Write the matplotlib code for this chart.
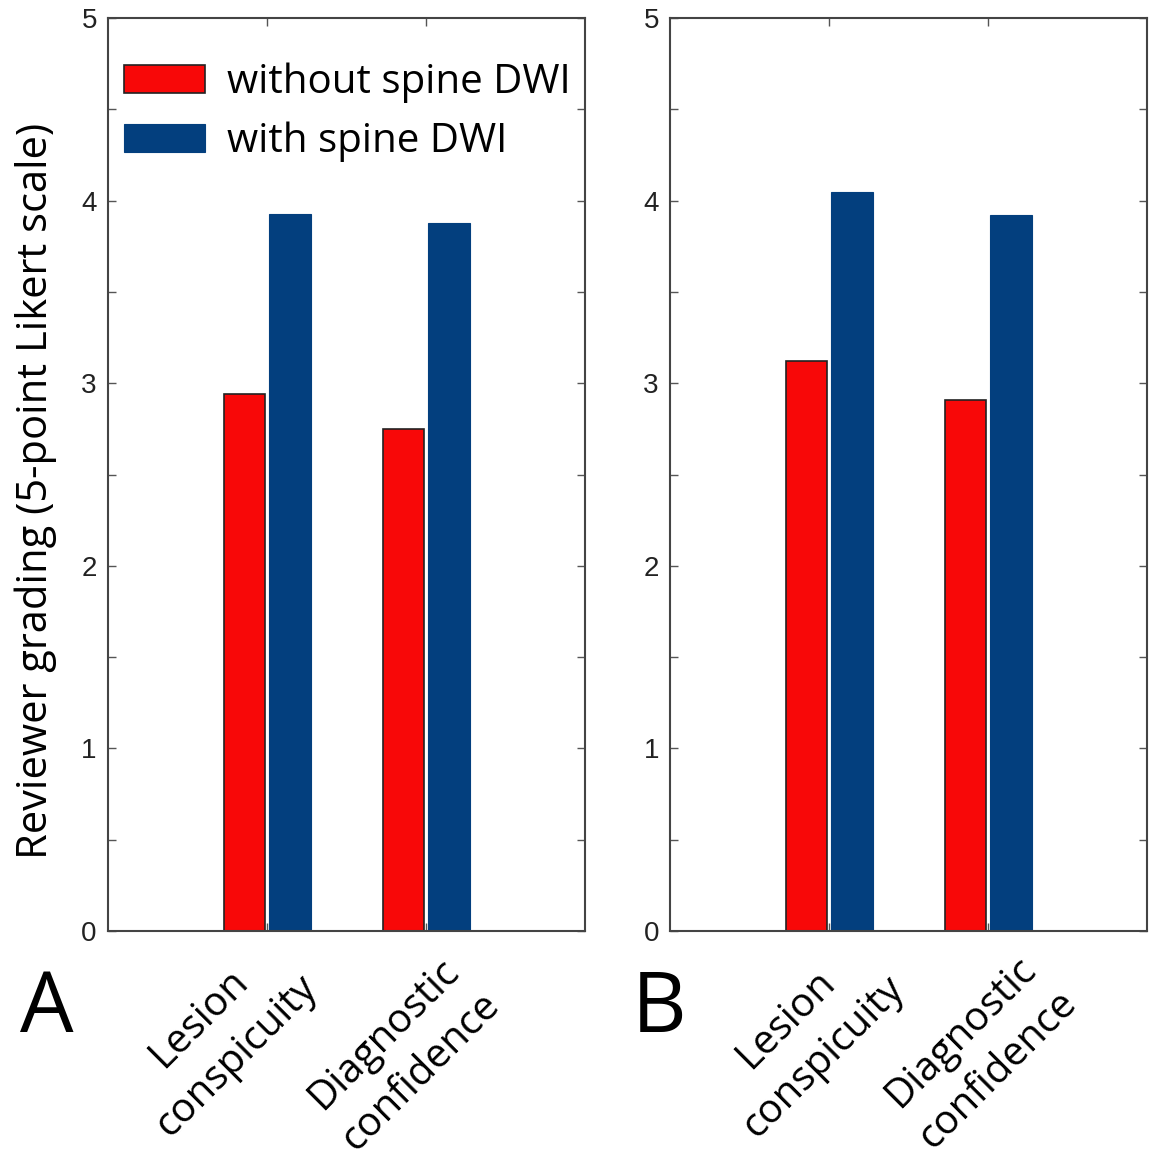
import matplotlib
matplotlib.use("Agg")
import matplotlib.pyplot as plt
import numpy as np
from matplotlib.transforms import ScaledTranslation

categories = ["Lesion\nconspicuity", "Diagnostic\nconfidence"]
series_names = ["without spine DWI", "with spine DWI"]
panel_a_without = [2.94, 2.75]
panel_a_with = [3.93, 3.88]
panel_b_without = [3.12, 2.91]
panel_b_with = [4.05, 3.92]
y_ticks = [0, 1, 2, 3, 4, 5]

RED = "#f80808"
BLUE = "#033f7e"
TXT = "Open Sans"
FS = 29

fig = plt.figure(figsize=(11.5, 11.57), dpi=100)
ax_a = fig.add_axes([0.0939, 0.1953, 0.4148, 0.789])
ax_b = fig.add_axes([0.5826, 0.1953, 0.4148, 0.789])

x = np.arange(1, len(categories) + 1)
w = 0.26
off = 0.14

# label centre offsets (px) relative to tick position at axis bottom
label_offsets = {
    "A": [(-49, 106), (-23, 122)],
    "B": [(-24, 107), (-8, 120)],
}

for ax, wo, wi, letter in [(ax_a, panel_a_without, panel_a_with, "A"),
                           (ax_b, panel_b_without, panel_b_with, "B")]:
    ax.bar(x - off, wo, width=w, color=RED, edgecolor="#222222", linewidth=1.2,
           label=series_names[0], zorder=2)
    ax.bar(x + off + 0.005, wi, width=w, color=BLUE, edgecolor=BLUE, linewidth=0.8,
           label=series_names[1], zorder=2)
    ax.set_xlim(0, 3)
    ax.set_ylim(0, 5)
    ax.set_yticks(y_ticks)
    ax.set_yticks(np.arange(0.5, 5, 1.0), minor=True)
    ax.set_yticklabels([str(t) for t in y_ticks], fontsize=20, family="Liberation Sans",
                       color="#222222")
    ax.set_xticks(x)
    ax.set_xticklabels([])
    ax.tick_params(axis="y", which="both", direction="in", left=True, right=True,
                   length=6, width=1.0, color="#555555", pad=8)
    ax.tick_params(axis="x", which="both", direction="in", top=True, bottom=True,
                   length=6, width=1.0, color="#555555")
    for s in ax.spines.values():
        s.set_color("#444444")
        s.set_linewidth(1.5)
    for xi, cat, (dx, dy) in zip(x, categories, label_offsets[letter]):
        tr = ax.get_xaxis_transform() + ScaledTranslation(dx / 100, -dy / 100,
                                                          fig.dpi_scale_trans)
        ax.text(xi, 0, cat, transform=tr, fontsize=FS, family=TXT, rotation=45,
                rotation_mode="anchor", ha="center", va="center",
                multialignment="center", linespacing=1.4)

fig.text(20 / 1150, 1 - 1010 / 1157, "A", fontsize=61, family=TXT,
         ha="left", va="center", color="black")
fig.text(632 / 1150, 1 - 1010 / 1157, "B", fontsize=61, family=TXT,
         ha="left", va="center", color="black")

ax_a.set_ylabel("Reviewer grading (5-point Likert scale)", fontsize=30, family=TXT)
ax_a.yaxis.set_label_coords(-0.106, 0.482)

leg = ax_a.legend(loc="upper left", bbox_to_anchor=(-0.025, 0.982), frameon=False,
                  prop={"family": TXT, "size": FS}, handlelength=2.0,
                  handleheight=0.68, handletextpad=0.55, labelspacing=0.45,
                  borderaxespad=0.3)

fig.savefig("out.png", dpi=100, facecolor="white")
